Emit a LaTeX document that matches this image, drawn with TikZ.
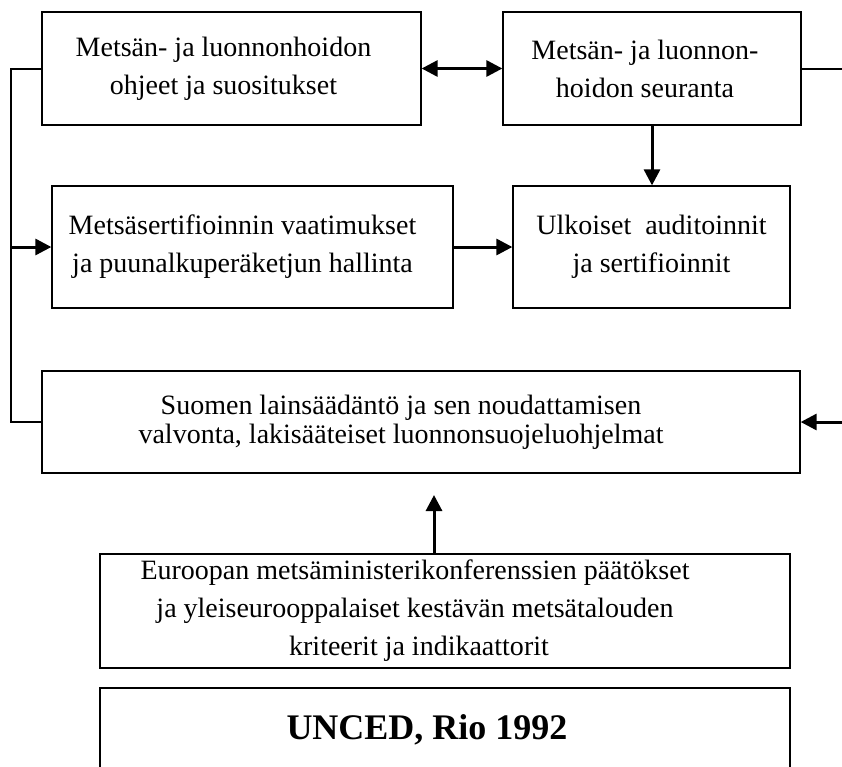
\documentclass[tikz,border=0pt]{standalone}
\usepackage{fontspec}
\setmainfont{Liberation Serif}
\usetikzlibrary{arrows.meta}

\begin{document}
\begin{tikzpicture}[x=1pt, y=-1pt,
	box/.style={draw, line width=1.3pt, align=center, inner sep=0pt, font=\fontsize{28}{38}\selectfont},
	conn/.style={line width=2pt},
	arr/.style={line width=3pt, -{Triangle[length=16pt, width=16pt]}},
	darr/.style={line width=3pt, {Triangle[length=16pt, width=16pt]}-{Triangle[length=16pt, width=16pt]}}]
	\useasboundingbox (0, 0) rectangle (842, 766);

	\node[box, minimum width=379pt, minimum height=113pt] (guides) at (231.5, 68.5) {\hspace*{-16pt}Metsän- ja luonnonhoidon\\ \hspace*{-16pt}ohjeet ja suositukset};
	\node[box, minimum width=298pt, minimum height=113pt] (monitor) at (652, 68.5) {\hspace*{-14pt}Metsän- ja luonnon-\\ \hspace*{-14pt}hoidon seuranta};
	\node[box, minimum width=401pt, minimum height=122pt] (certreq) at (252.5, 247) {\hspace*{-20pt}Metsäsertifioinnin vaatimukset\\ \hspace*{-20pt}ja puunalkuperäketjun hallinta};
	\node[box, minimum width=277pt, minimum height=122pt] (audit) at (651.5, 247) {Ulkoiset~ auditoinnit\\ja sertifioinnit};
	\node[box, minimum width=758pt, minimum height=102pt, font=\fontsize{28}{29}\selectfont] (law) at (421, 422) {\hspace*{-40pt}Suomen lainsäädäntö ja sen noudattamisen\\ \hspace*{-40pt}valvonta, lakisääteiset luonnonsuojeluohjelmat};
	\node[box, minimum width=690pt, minimum height=114pt] (europe) at (445, 611) {\hspace*{-60pt}Euroopan metsäministerikonferenssien päätökset\\ \hspace*{-60pt}ja yleiseurooppalaiset kestävän metsätalouden\\ \hspace*{-52pt}kriteerit ja indikaattorit};
	\node[box, minimum width=690pt, minimum height=84pt, font=\fontsize{36}{40}\selectfont\bfseries] (unced) at (445, 730) {\hspace*{-36pt}UNCED, Rio 1992};

	\coordinate (lft) at (11, 0);
	\coordinate (rgt) at (846, 0);
	\coordinate (tip) at (434, 495);

	\draw[conn] (guides.west) -- (guides.west -| lft) |- (law.west);
	\draw[arr] (lft |- certreq.west) -- (certreq.west);
	\draw[conn] (monitor.east) -- (monitor.east -| rgt) -- (rgt |- law.east);
	\draw[arr] (rgt |- law.east) -- (law.east);

	\draw[darr] (guides.east) -- (monitor.west);
	\draw[arr] (monitor.south) -- (monitor.south |- audit.north);
	\draw[arr] (certreq.east) -- (audit.west);
	\draw[arr] (europe.north -| tip) -- (tip);

\end{tikzpicture}
\end{document}
